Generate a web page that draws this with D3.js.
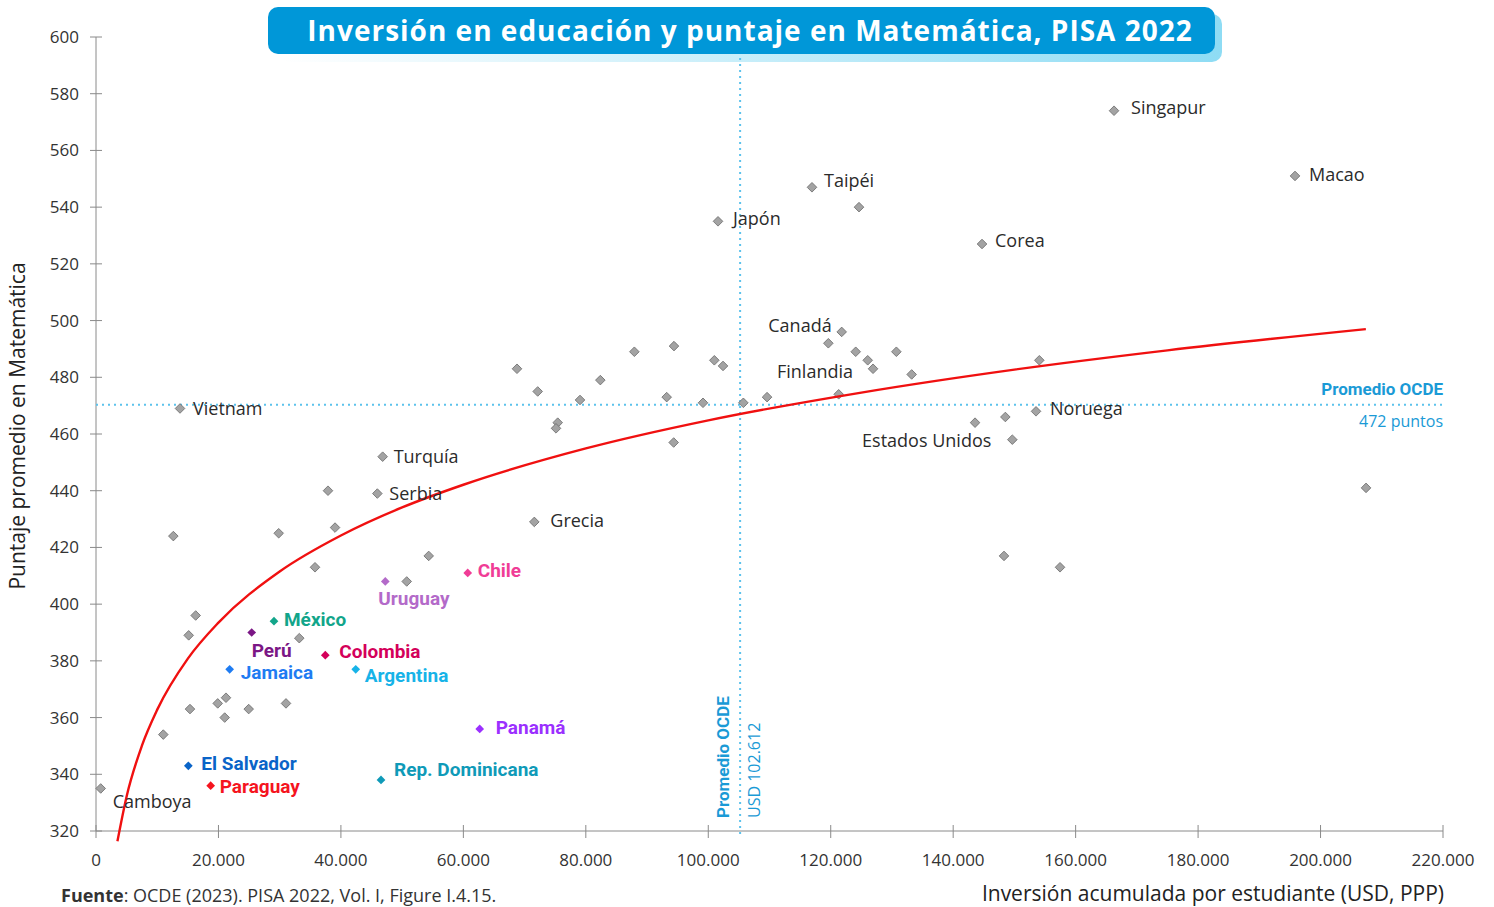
<!DOCTYPE html>
<html>
<head>
<meta charset="utf-8">
<script src="https://cdn.jsdelivr.net/npm/d3@7"></script>
<style>
  body { margin: 0; background: #fff; }
  svg { display: block; font-family: "Open Sans", sans-serif; }
  .tick-label { font-size: 17px; fill: #333; }
  .axis-title { font-size: 21px; fill: #222; }
  .gray-label { font-size: 18px; fill: #2b2b2b; }
  .latam-label { font-family: Roboto, sans-serif; font-weight: 700; font-size: 19px; }
  .ref-label { fill: #1a9ad6; font-size: 16px; }
  .ref-bold { font-family: Roboto, sans-serif; font-weight: 700; font-size: 17px; }
</style>
</head>
<body>
<div id="chart"></div>
<script>
// ---- data ----
let xTicks = [0, 20000, 40000, 60000, 80000, 100000, 120000, 140000, 160000, 180000, 200000, 220000];
let yTicks = [320, 340, 360, 380, 400, 420, 440, 460, 480, 500, 520, 540, 560, 580, 600];

// named countries (gray markers): [name, inversion USD, puntaje]
let namedCountries = [
  ['Singapur', 166270, 574],
  ['Macao', 195830, 551],
  ['Taipéi', 116940, 547],
  ['Japón', 101590, 535],
  ['Corea', 144710, 527],
  ['Canadá', 121790, 496],
  ['Finlandia', 126910, 483],
  ['Noruega', 153530, 468],
  ['Estados Unidos', 149660, 458],
  ['Vietnam', 13720, 469],
  ['Turquía', 46820, 452],
  ['Serbia', 45950, 439],
  ['Grecia', 71590, 429],
  ['Camboya', 770, 335]
];

// Latin American countries (colored markers)
let latamCountries = [
  ['Chile', 60710, 411],
  ['Uruguay', 47250, 408],
  ['México', 29070, 394],
  ['Perú', 25430, 390],
  ['Colombia', 37450, 382],
  ['Jamaica', 21830, 377],
  ['Argentina', 42420, 377],
  ['Panamá', 62670, 356],
  ['El Salvador', 15080, 343],
  ['Paraguay', 18730, 336],
  ['Rep. Dominicana', 46550, 338]
];

// other unlabeled countries: [inversion, puntaje]
let otherCountries = [
  [10990, 354], [15350, 363], [19880, 365], [21230, 367], [21020, 360], [24940, 363],
  [31030, 365], [15140, 389], [16280, 396], [33200, 388], [35770, 413], [50750, 408],
  [12630, 424], [29840, 425], [37890, 440], [39040, 427], [54340, 417], [68760, 483],
  [72140, 475], [87930, 489], [94400, 491], [100990, 486], [102410, 484], [82370, 479],
  [79050, 472], [93210, 473], [99140, 471], [105730, 471], [109600, 473], [75410, 464],
  [75130, 462], [94350, 457], [121300, 474], [119610, 492], [124080, 489], [126040, 486],
  [130720, 489], [133220, 481], [154070, 486], [143570, 464], [148520, 466], [124620, 540],
  [207430, 441], [148300, 417], [157450, 413]
];

// logarithmic trend line
let trendX = [3500, 5000, 7500, 10000, 15000, 20000, 30000, 40000, 50000, 60000, 80000, 100000, 125000, 150000, 175000, 207400];
let trendY = [316.4, 332.2, 350.1, 362.8, 380.8, 393.5, 411.5, 424.2, 434.1, 442.1, 454.9, 464.8, 474.6, 482.7, 489.5, 497.0];

// OECD averages (reference lines)
let oecdScore = 470.3;
let oecdInvest = 105200;

let latamColors = {
  'Chile': '#f03c96', 'Uruguay': '#b36ac9', 'México': '#12a58a', 'Perú': '#7b1785',
  'Colombia': '#d4005a', 'Jamaica': '#1f7cf2', 'Argentina': '#17b3e8', 'Panamá': '#9b30ff',
  'El Salvador': '#0a64c8', 'Paraguay': '#f5141e', 'Rep. Dominicana': '#0f9ab8'
};

// label offsets in pixels relative to the marker [dx, dy, anchor]
let labelPos = {
  'Singapur': [17, -3, 'start'], 'Macao': [14, -1, 'start'], 'Taipéi': [12, -7, 'start'],
  'Japón': [15, -3, 'start'], 'Corea': [13, -3, 'start'], 'Canadá': [-10, -6, 'end'],
  'Finlandia': [-20, 3, 'end'], 'Noruega': [14, -3, 'start'], 'Estados Unidos': [-21, 1, 'end'],
  'Vietnam': [13, 0, 'start'], 'Turquía': [11, 0, 'start'], 'Serbia': [12, 0, 'start'],
  'Grecia': [16, -1, 'start'], 'Camboya': [12, 13, 'start'],
  'Chile': [10, -3, 'start'], 'Uruguay': [-7, 17, 'start'], 'México': [10, -2, 'start'],
  'Perú': [0, 18, 'start'], 'Colombia': [14, -4, 'start'], 'Jamaica': [11, 3, 'start'],
  'Argentina': [9, 6, 'start'], 'Panamá': [16, -2, 'start'], 'El Salvador': [13, -2, 'start'],
  'Paraguay': [9, 1, 'start'], 'Rep. Dominicana': [13, -11, 'start']
};

let W = 1494, H = 907;
let plot = {left: 96, right: 1443, top: 37, bottom: 831};

let svg = d3.select('#chart').append('svg')
    .attr('width', W)
    .attr('height', H);

let x = d3.scaleLinear().domain([0, 220000]).range([plot.left, plot.right]);
let y = d3.scaleLinear().domain([320, 600]).range([plot.bottom, plot.top]);
let fmt = d3.formatLocale({decimal: ',', thousands: '.', grouping: [3], currency: ['', '']}).format(',');

// title banner
let defs = svg.append('defs');
let grad = defs.append('linearGradient').attr('id', 'title-shadow')
    .attr('x1', 0).attr('x2', 1).attr('y1', 0).attr('y2', 0);
grad.append('stop').attr('offset', '0%').attr('stop-color', '#ffffff');
grad.append('stop').attr('offset', '100%').attr('stop-color', '#8edcf4');

svg.append('rect')
    .attr('x', 279).attr('y', 14).attr('width', 943).attr('height', 48)
    .attr('rx', 10).attr('fill', 'url(#title-shadow)');
svg.append('rect')
    .attr('x', 268).attr('y', 7).attr('width', 947).attr('height', 47)
    .attr('rx', 10).attr('fill', '#0097d8');
svg.append('text')
    .attr('x', 750).attr('y', 41)
    .attr('text-anchor', 'middle')
    .attr('fill', '#fff')
    .style('font-size', '28px').style('font-weight', 700)
    .style('letter-spacing', '1px')
    .text('Inversión en educación y puntaje en Matemática, PISA 2022');

// axes
let axisColor = '#8a8a8a';
svg.append('line')
    .attr('x1', plot.left).attr('x2', plot.left)
    .attr('y1', plot.top).attr('y2', plot.bottom)
    .attr('stroke', axisColor);
svg.append('line')
    .attr('x1', plot.left).attr('x2', plot.right)
    .attr('y1', plot.bottom).attr('y2', plot.bottom)
    .attr('stroke', axisColor);

svg.selectAll('.ytick').data(yTicks).enter().append('line')
    .attr('x1', plot.left - 6).attr('x2', plot.left + 6)
    .attr('y1', d => y(d)).attr('y2', d => y(d))
    .attr('stroke', axisColor);
svg.selectAll('.ylab').data(yTicks).enter().append('text')
    .attr('class', 'tick-label')
    .attr('x', 79).attr('y', d => y(d))
    .attr('dy', '0.35em')
    .attr('text-anchor', 'end')
    .text(d => d);

svg.selectAll('.xtick').data(xTicks).enter().append('line')
    .attr('x1', d => x(d)).attr('x2', d => x(d))
    .attr('y1', plot.bottom - 6).attr('y2', plot.bottom + 7)
    .attr('stroke', axisColor);
svg.selectAll('.xlab').data(xTicks).enter().append('text')
    .attr('class', 'tick-label')
    .attr('x', d => x(d)).attr('y', 866)
    .attr('text-anchor', 'middle')
    .text(d => fmt(d));

// axis titles
svg.append('text')
    .attr('class', 'axis-title')
    .attr('transform', 'translate(25,426) rotate(-90)')
    .attr('text-anchor', 'middle')
    .text('Puntaje promedio en Matemática');
svg.append('text')
    .attr('class', 'axis-title')
    .attr('x', 1444).attr('y', 901)
    .attr('text-anchor', 'end')
    .text('Inversión acumulada por estudiante (USD, PPP)');

// source
let src = svg.append('text')
    .attr('x', 61).attr('y', 902)
    .style('font-size', '18px').attr('fill', '#333');
src.append('tspan').style('font-weight', 700).text('Fuente');
src.append('tspan').text(': OCDE (2023). PISA 2022, Vol. I, Figure I.4.15.');

// OECD reference lines
let refColor = '#5cc2ec';
svg.append('line')
    .attr('x1', plot.left).attr('x2', plot.right)
    .attr('y1', y(oecdScore)).attr('y2', y(oecdScore))
    .attr('stroke', refColor).attr('stroke-width', 2)
    .attr('stroke-dasharray', '2,4');
svg.append('line')
    .attr('x1', x(oecdInvest)).attr('x2', x(oecdInvest))
    .attr('y1', 58).attr('y2', plot.bottom + 4)
    .attr('stroke', refColor).attr('stroke-width', 2)
    .attr('stroke-dasharray', '2,4');

svg.append('text').attr('class', 'ref-label ref-bold')
    .attr('x', plot.right).attr('y', y(oecdScore) - 10)
    .attr('text-anchor', 'end')
    .text('Promedio OCDE');
svg.append('text').attr('class', 'ref-label')
    .attr('x', plot.right).attr('y', y(oecdScore) + 22)
    .attr('text-anchor', 'end')
    .text('472 puntos');
svg.append('text').attr('class', 'ref-label ref-bold')
    .attr('transform', 'translate(' + (x(oecdInvest) - 11) + ',818) rotate(-90)')
    .text('Promedio OCDE');
svg.append('text').attr('class', 'ref-label')
    .attr('transform', 'translate(' + (x(oecdInvest) + 20) + ',818) rotate(-90)')
    .text('USD 102.612');

// diamond helper
let diamond = (size) => d3.symbol().type(d3.symbolSquare).size(size);

// gray markers
svg.selectAll('.other').data(otherCountries).enter().append('path')
    .attr('d', diamond(46)())
    .attr('transform', d => 'translate(' + x(d[0]) + ',' + y(d[1]) + ') rotate(45)')
    .attr('fill', '#a3a3a3').attr('stroke', '#6e6e6e').attr('stroke-width', 0.8);

svg.selectAll('.named').data(namedCountries).enter().append('path')
    .attr('d', diamond(46)())
    .attr('transform', d => 'translate(' + x(d[1]) + ',' + y(d[2]) + ') rotate(45)')
    .attr('fill', '#a3a3a3').attr('stroke', '#6e6e6e').attr('stroke-width', 0.8);

// trend line
let trend = trendX.map((v, i) => [v, trendY[i]]);
svg.append('path')
    .datum(trend)
    .attr('d', d3.line().curve(d3.curveMonotoneX).x(d => x(d[0])).y(d => y(d[1])))
    .attr('fill', 'none').attr('stroke', '#f01010').attr('stroke-width', 2.4);

// Latin America markers
svg.selectAll('.latam').data(latamCountries).enter().append('path')
    .attr('d', diamond(38)())
    .attr('transform', d => 'translate(' + x(d[1]) + ',' + y(d[2]) + ') rotate(45)')
    .attr('fill', d => latamColors[d[0]]);

// labels
svg.selectAll('.named-label').data(namedCountries).enter().append('text')
    .attr('class', 'gray-label')
    .attr('x', d => x(d[1]) + labelPos[d[0]][0])
    .attr('y', d => y(d[2]) + labelPos[d[0]][1])
    .attr('dy', '0.35em')
    .attr('text-anchor', d => labelPos[d[0]][2])
    .text(d => d[0]);

svg.selectAll('.latam-label').data(latamCountries).enter().append('text')
    .attr('class', 'latam-label')
    .attr('x', d => x(d[1]) + labelPos[d[0]][0])
    .attr('y', d => y(d[2]) + labelPos[d[0]][1])
    .attr('dy', '0.35em')
    .attr('fill', d => latamColors[d[0]])
    .text(d => d[0]);
</script>
</body>
</html>
